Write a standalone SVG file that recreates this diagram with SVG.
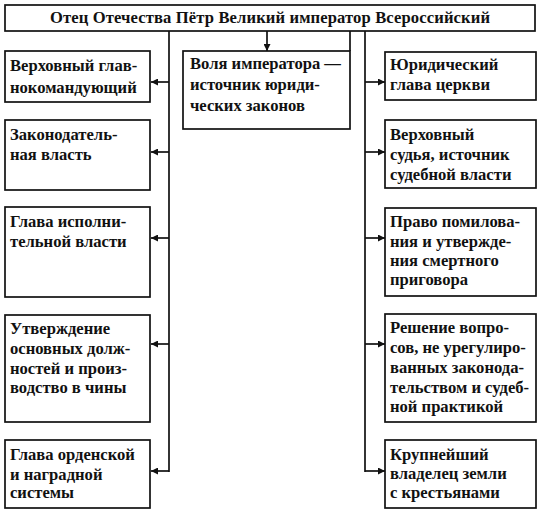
<svg xmlns="http://www.w3.org/2000/svg" width="540" height="512" viewBox="0 0 540 512">
<style>
.box{fill:#fff;stroke:#111;stroke-width:1.7}
.t{font-family:"Liberation Serif","DejaVu Serif",serif;font-weight:bold;font-size:16.6px;fill:#111}
.c{fill:none;stroke:#111;stroke-width:1.7}
</style>
<defs>
<marker id="ah" viewBox="0 0 10 10" refX="10" refY="5" markerWidth="10" markerHeight="7" markerUnits="userSpaceOnUse" orient="auto">
<path d="M0,0 L10,5 L0,10 z" fill="#111"/>
</marker>
</defs>
<rect width="540" height="512" fill="#fff"/>
<g id="connectors">
<path class="c" d="M169,31 V472"/>
<path class="c" d="M365,31 V472"/>
<path class="c" d="M350,31 V51"/>
<path class="c" d="M267,31 V51" marker-end="url(#ah)"/>
<path class="c" d="M169,82 H151" marker-end="url(#ah)"/>
<path class="c" d="M169,152 H151" marker-end="url(#ah)"/>
<path class="c" d="M169,238 H151" marker-end="url(#ah)"/>
<path class="c" d="M169,344 H151" marker-end="url(#ah)"/>
<path class="c" d="M169,471 H151" marker-end="url(#ah)"/>
<path class="c" d="M365,82 H385" marker-end="url(#ah)"/>
<path class="c" d="M365,152 H385" marker-end="url(#ah)"/>
<path class="c" d="M365,238 H385" marker-end="url(#ah)"/>
<path class="c" d="M365,344 H385" marker-end="url(#ah)"/>
<path class="c" d="M365,471 H385" marker-end="url(#ah)"/>
</g>
<g id="top">
<rect class="box" x="5" y="5" width="530" height="26"/>
<text class="t" x="270" y="23" text-anchor="middle" textLength="440" lengthAdjust="spacing">Отец Отечества Пётр Великий император Всероссийский</text>
</g>
<g id="mid">
<rect class="box" x="183" y="51" width="167" height="78"/>
<text class="t" x="190" y="69">Воля императора —</text>
<text class="t" x="190" y="90">источник юриди-</text>
<text class="t" x="190" y="111">ческих законов</text>
</g>
<g id="l1">
<rect class="box" x="5" y="51" width="145" height="51"/>
<text class="t" x="10" y="71">Верховный глав-</text>
<text class="t" x="10" y="93">нокомандующий</text>
</g>
<g id="l2">
<rect class="box" x="5" y="120" width="145" height="70"/>
<text class="t" x="10" y="140">Законодатель-</text>
<text class="t" x="10" y="160">ная власть</text>
</g>
<g id="l3">
<rect class="box" x="5" y="207" width="145" height="90"/>
<text class="t" x="10" y="227">Глава исполни-</text>
<text class="t" x="10" y="247">тельной власти</text>
</g>
<g id="l4">
<rect class="box" x="5" y="315" width="145" height="107"/>
<text class="t" x="10" y="334">Утверждение</text>
<text class="t" x="10" y="354">основных долж-</text>
<text class="t" x="10" y="374">ностей и произ-</text>
<text class="t" x="10" y="393">водство в чины</text>
</g>
<g id="l5">
<rect class="box" x="5" y="440" width="145" height="68"/>
<text class="t" x="10" y="460">Глава орденской</text>
<text class="t" x="10" y="480">и наградной</text>
<text class="t" x="10" y="498">системы</text>
</g>
<g id="r1">
<rect class="box" x="385" y="52" width="151" height="48"/>
<text class="t" x="390" y="70">Юридический</text>
<text class="t" x="390" y="90">глава церкви</text>
</g>
<g id="r2">
<rect class="box" x="385" y="120" width="151" height="68"/>
<text class="t" x="390" y="140">Верховный</text>
<text class="t" x="390" y="160">судья, источник</text>
<text class="t" x="390" y="180">судебной власти</text>
</g>
<g id="r3">
<rect class="box" x="385" y="208" width="151" height="88"/>
<text class="t" x="390" y="227">Право помилова-</text>
<text class="t" x="390" y="247">ния и утвержде-</text>
<text class="t" x="390" y="266">ния смертного</text>
<text class="t" x="390" y="285">приговора</text>
</g>
<g id="r4">
<rect class="box" x="385" y="314" width="151" height="108"/>
<text class="t" x="390" y="333">Решение вопро-</text>
<text class="t" x="390" y="353">сов, не урегулиро-</text>
<text class="t" x="390" y="373">ванных законода-</text>
<text class="t" x="390" y="393">тельством и судеб-</text>
<text class="t" x="390" y="412">ной практикой</text>
</g>
<g id="r5">
<rect class="box" x="385" y="440" width="151" height="68"/>
<text class="t" x="390" y="460">Крупнейший</text>
<text class="t" x="390" y="479">владелец земли</text>
<text class="t" x="390" y="498">с крестьянами</text>
</g>
</svg>
